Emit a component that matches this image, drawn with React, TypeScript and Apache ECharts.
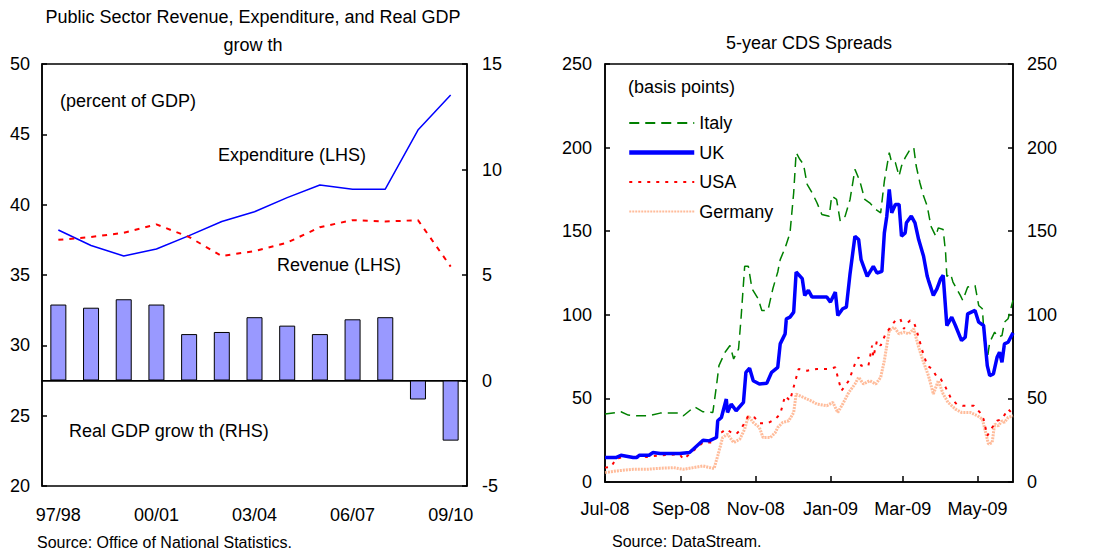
import React, { useEffect, useRef } from "react";
import * as echarts from "echarts";

// ---------- Left chart data ----------
const fiscalYears = ["97/98", "98/99", "99/00", "00/01", "01/02", "02/03", "03/04", "04/05", "05/06", "06/07", "07/08", "08/09", "09/10"];
const expenditure = [38.2, 37.1, 36.35, 36.85, 37.8, 38.8, 39.5, 40.5, 41.4, 41.1, 41.1, 45.3, 47.8];
const revenue = [37.5, 37.7, 38.0, 38.6, 37.7, 36.35, 36.7, 37.3, 38.4, 38.9, 38.8, 38.9, 35.6];
const realGdpGrowth = [3.6, 3.45, 3.85, 3.6, 2.2, 2.3, 3.0, 2.6, 2.2, 2.9, 3.0, -0.9, -2.85];

// ---------- Right chart data ----------
const cdsTickDates = ["2008-07-01", "2008-09-01", "2008-11-01", "2009-01-01", "2009-03-01", "2009-05-01"];
const monthNames = ["Jan", "Feb", "Mar", "Apr", "May", "Jun", "Jul", "Aug", "Sep", "Oct", "Nov", "Dec"];

const italy: [string, number][] = [
  ["2008-07-01", 40.6], ["2008-07-14", 42], ["2008-07-20", 40], ["2008-07-27", 39.6], ["2008-08-06", 39.6], ["2008-08-15", 41.2],
  ["2008-08-31", 41.2], ["2008-09-03", 39.6], ["2008-09-08", 42.6], ["2008-09-12", 45], ["2008-09-19", 42], ["2008-09-27", 41.6],
  ["2008-09-30", 57.6], ["2008-10-02", 69.6], ["2008-10-07", 77.6], ["2008-10-11", 81.6], ["2008-10-14", 73.6], ["2008-10-18", 79.6],
  ["2008-10-20", 97.6], ["2008-10-23", 129], ["2008-10-26", 129], ["2008-10-29", 115.6], ["2008-11-03", 109.6], ["2008-11-06", 102.6],
  ["2008-11-11", 102.6], ["2008-11-15", 115.6], ["2008-11-19", 125.6], ["2008-11-21", 133], ["2008-11-25", 140], ["2008-11-29", 149],
  ["2008-12-02", 173], ["2008-12-04", 197], ["2008-12-07", 193], ["2008-12-10", 190], ["2008-12-13", 178], ["2008-12-17", 173],
  ["2008-12-21", 167], ["2008-12-25", 160], ["2008-12-31", 159], ["2009-01-02", 171], ["2009-01-06", 169], ["2009-01-09", 156],
  ["2009-01-13", 159], ["2009-01-17", 169], ["2009-01-21", 187], ["2009-01-25", 180], ["2009-01-29", 169], ["2009-02-02", 167],
  ["2009-02-07", 163], ["2009-02-11", 161], ["2009-02-14", 180], ["2009-02-18", 197], ["2009-02-20", 191], ["2009-02-23", 191],
  ["2009-02-26", 183], ["2009-02-28", 189], ["2009-03-03", 194], ["2009-03-07", 199], ["2009-03-10", 200], ["2009-03-12", 189],
  ["2009-03-15", 179], ["2009-03-18", 171], ["2009-03-21", 165], ["2009-03-24", 153], ["2009-03-28", 147], ["2009-03-30", 152],
  ["2009-04-03", 151], ["2009-04-05", 137], ["2009-04-06", 123], ["2009-04-09", 124.6], ["2009-04-11", 119.6], ["2009-04-17", 111.6],
  ["2009-04-19", 108.6], ["2009-04-23", 116.6], ["2009-04-29", 117.6], ["2009-05-02", 105.6], ["2009-05-05", 103.6], ["2009-05-07", 81.6],
  ["2009-05-09", 73.6], ["2009-05-11", 83.6], ["2009-05-15", 89.6], ["2009-05-18", 86.6], ["2009-05-21", 87.6], ["2009-05-23", 95.6],
  ["2009-05-26", 97.6], ["2009-05-30", 108.6],
];

const uk: [string, number][] = [
  ["2008-07-01", 14.6], ["2008-07-10", 14.6], ["2008-07-14", 16], ["2008-07-24", 14.6], ["2008-07-27", 14.6], ["2008-07-29", 16],
  ["2008-08-06", 16], ["2008-08-09", 17.6], ["2008-08-15", 17], ["2008-08-31", 17], ["2008-09-08", 17.6], ["2008-09-11", 19.6],
  ["2008-09-19", 25], ["2008-09-24", 24.6], ["2008-09-30", 26.6], ["2008-10-01", 36.6], ["2008-10-04", 38.6], ["2008-10-08", 49.6],
  ["2008-10-09", 41.6], ["2008-10-12", 46.6], ["2008-10-16", 42.6], ["2008-10-22", 47.6], ["2008-10-24", 65.6], ["2008-10-27", 68],
  ["2008-10-30", 60.6], ["2008-11-04", 58.6], ["2008-11-10", 59], ["2008-11-14", 65.6], ["2008-11-19", 68.6], ["2008-11-21", 82.6],
  ["2008-11-25", 88.6], ["2008-11-26", 97.6], ["2008-11-29", 98.6], ["2008-12-02", 101.6], ["2008-12-04", 125.6], ["2008-12-09", 121.6],
  ["2008-12-11", 111.6], ["2008-12-14", 114.6], ["2008-12-17", 110.6], ["2008-12-29", 110.6], ["2009-01-01", 107.6], ["2009-01-05", 113.6],
  ["2009-01-07", 99.6], ["2009-01-11", 103.6], ["2009-01-14", 104.6], ["2009-01-17", 124.6], ["2009-01-21", 147], ["2009-01-24", 145],
  ["2009-01-26", 133], ["2009-01-31", 123], ["2009-02-05", 129], ["2009-02-08", 125], ["2009-02-12", 126], ["2009-02-14", 149],
  ["2009-02-16", 159], ["2009-02-18", 175], ["2009-02-20", 161], ["2009-02-23", 166], ["2009-02-26", 166], ["2009-02-28", 147],
  ["2009-03-03", 149], ["2009-03-04", 155], ["2009-03-08", 159], ["2009-03-11", 155], ["2009-03-14", 145], ["2009-03-18", 135],
  ["2009-03-21", 123], ["2009-03-22", 120.6], ["2009-03-26", 111.6], ["2009-03-29", 115.6], ["2009-04-01", 121.6], ["2009-04-03", 123.6],
  ["2009-04-06", 93.6], ["2009-04-10", 98.6], ["2009-04-13", 93.6], ["2009-04-18", 84.6], ["2009-04-21", 86.6], ["2009-04-23", 100.6],
  ["2009-04-29", 102.6], ["2009-05-02", 95.6], ["2009-05-06", 93.6], ["2009-05-09", 69.6], ["2009-05-11", 63.6], ["2009-05-14", 64.6],
  ["2009-05-17", 74.6], ["2009-05-19", 77.6], ["2009-05-21", 71.6], ["2009-05-23", 82.6], ["2009-05-26", 83.6], ["2009-05-30", 89.2],
];

const usa: [string, number][] = [
  ["2008-07-01", 8.6], ["2008-07-06", 9], ["2008-07-10", 14], ["2008-07-20", 15.5], ["2008-08-04", 15], ["2008-08-15", 16],
  ["2008-08-31", 16.5], ["2008-09-03", 13.6], ["2008-09-11", 18.6], ["2008-09-19", 23.6], ["2008-09-27", 23.6], ["2008-09-30", 27.6],
  ["2008-10-04", 29.6], ["2008-10-08", 31.6], ["2008-10-12", 29.6], ["2008-10-16", 28.6], ["2008-10-20", 31.6], ["2008-10-26", 39.6],
  ["2008-10-31", 38.6], ["2008-11-04", 35.2], ["2008-11-11", 35.2], ["2008-11-17", 37.6], ["2008-11-21", 40.6], ["2008-11-25", 51.6],
  ["2008-11-29", 48.6], ["2008-12-03", 59.6], ["2008-12-06", 67.6], ["2008-12-13", 66.6], ["2008-12-21", 67.6], ["2008-12-31", 67.6],
  ["2009-01-05", 68.6], ["2009-01-07", 62.6], ["2009-01-10", 54.6], ["2009-01-16", 60.6], ["2009-01-21", 70.6], ["2009-01-24", 74.6],
  ["2009-01-26", 69.6], ["2009-02-01", 69.6], ["2009-02-04", 81.6], ["2009-02-05", 74.6], ["2009-02-08", 84.6], ["2009-02-11", 81.6],
  ["2009-02-15", 88.6], ["2009-02-19", 92.6], ["2009-02-23", 96.6], ["2009-02-27", 97.6], ["2009-03-02", 91.6], ["2009-03-04", 94.6],
  ["2009-03-07", 96.6], ["2009-03-10", 95.6], ["2009-03-12", 91.6], ["2009-03-17", 78.6], ["2009-03-21", 69.6], ["2009-03-25", 67.6],
  ["2009-03-29", 62.6], ["2009-04-01", 61.6], ["2009-04-05", 56.6], ["2009-04-09", 50.6], ["2009-04-14", 46.6], ["2009-04-19", 45.6],
  ["2009-04-22", 45.6], ["2009-04-28", 45.6], ["2009-05-03", 41.6], ["2009-05-06", 37.6], ["2009-05-09", 27.6], ["2009-05-13", 32.6],
  ["2009-05-17", 36.6], ["2009-05-21", 37.6], ["2009-05-26", 43.6], ["2009-05-30", 40.6],
];

const germany: [string, number][] = [
  ["2008-07-01", 5.6], ["2008-07-10", 6.6], ["2008-07-24", 7.6], ["2008-08-04", 7.6], ["2008-08-15", 8.2], ["2008-08-26", 8.6],
  ["2008-09-03", 7.6], ["2008-09-11", 8.6], ["2008-09-19", 9.6], ["2008-09-28", 8], ["2008-10-01", 15.6], ["2008-10-05", 26.6],
  ["2008-10-09", 28.6], ["2008-10-14", 23.6], ["2008-10-19", 25.6], ["2008-10-23", 31.6], ["2008-10-26", 39.6], ["2008-10-30", 35.6],
  ["2008-11-04", 32.6], ["2008-11-07", 26.6], ["2008-11-13", 26.6], ["2008-11-17", 29.6], ["2008-11-19", 32.6], ["2008-11-23", 35.6],
  ["2008-11-28", 36.6], ["2008-12-02", 41.6], ["2008-12-04", 52.6], ["2008-12-10", 50.6], ["2008-12-16", 48.6], ["2008-12-21", 46.6],
  ["2008-12-29", 45.6], ["2009-01-03", 47.6], ["2009-01-07", 41.6], ["2009-01-11", 46.6], ["2009-01-16", 53.6], ["2009-01-21", 58.6],
  ["2009-01-24", 62.6], ["2009-01-28", 58.6], ["2009-02-02", 60.6], ["2009-02-07", 58.6], ["2009-02-11", 62.6], ["2009-02-14", 72.6],
  ["2009-02-18", 90.6], ["2009-02-22", 92.6], ["2009-02-26", 88.6], ["2009-03-02", 89.6], ["2009-03-06", 88.6], ["2009-03-10", 91.6],
  ["2009-03-14", 80.6], ["2009-03-18", 71.6], ["2009-03-22", 63.6], ["2009-03-26", 52.6], ["2009-03-30", 60.6], ["2009-04-03", 52.6],
  ["2009-04-07", 47.6], ["2009-04-13", 43.6], ["2009-04-18", 41.6], ["2009-04-25", 41.6], ["2009-05-01", 39.6], ["2009-05-05", 37.6],
  ["2009-05-07", 31.6], ["2009-05-10", 22.6], ["2009-05-13", 23.6], ["2009-05-15", 34.6], ["2009-05-18", 33.6], ["2009-05-21", 36.6],
  ["2009-05-23", 35.6], ["2009-05-26", 38.6], ["2009-05-30", 39.6],
];

const FONT = "Liberation Sans, Arial, sans-serif";

function parseLocal(s: string): number {
  const [y, m, d] = s.split("-").map(Number);
  return new Date(y, m - 1, d).getTime();
}

export default function App() {
  const ref = useRef<HTMLDivElement>(null);

  useEffect(() => {
    if (!ref.current) return;
    const chart = echarts.init(ref.current, undefined, { renderer: "svg" });
    const tickValues = cdsTickDates.map(parseLocal);
    const axisLineStyle = { color: "#000", width: 1.5 };
    const labelStyle = { color: "#000", fontSize: 18, fontFamily: FONT };
    const tickStyle = { color: "#000", width: 1.5 };
    const textFont = `18px ${FONT}`;

    const option: any = {
      animation: false,
      backgroundColor: "#fff",
      textStyle: { fontFamily: FONT },
      grid: [
        { left: 42, top: 64, width: 425, height: 422, show: true, borderColor: "#000", borderWidth: 1.5, backgroundColor: "transparent" },
        { left: 605, top: 64, width: 408, height: 418, show: true, borderColor: "#000", borderWidth: 1.5, backgroundColor: "transparent" },
      ],
      xAxis: [
        {
          type: "category",
          gridIndex: 0,
          data: fiscalYears,
          boundaryGap: true,
          axisLine: { lineStyle: axisLineStyle },
          axisTick: { inside: true, interval: 2, length: 6, lineStyle: tickStyle },
          axisLabel: { interval: 2, margin: 20, ...labelStyle },
          splitLine: { show: false },
        },
        {
          type: "value",
          gridIndex: 1,
          min: parseLocal("2008-07-01"),
          max: parseLocal("2009-05-30"),
          axisLine: { lineStyle: axisLineStyle },
          axisTick: { show: true, inside: true, length: 6, customValues: tickValues, lineStyle: tickStyle },
          axisLabel: {
            margin: 18,
            ...labelStyle,
            customValues: tickValues,
            formatter: (v: number) => {
              const d = new Date(v);
              return monthNames[d.getMonth()] + "-" + String(d.getFullYear()).slice(2);
            },
          },
          splitLine: { show: false },
        },
      ],
      yAxis: [
        {
          type: "value", gridIndex: 0, min: 20, max: 50, interval: 5,
          axisLine: { show: true, lineStyle: axisLineStyle },
          axisTick: { show: true, inside: true, length: 5, lineStyle: tickStyle },
          axisLabel: { margin: 12, ...labelStyle },
          splitLine: { show: false },
        },
        {
          type: "value", gridIndex: 0, min: -5, max: 15, interval: 5, position: "right",
          axisLine: { show: true, lineStyle: axisLineStyle },
          axisTick: { show: true, inside: true, length: 5, lineStyle: tickStyle },
          axisLabel: { margin: 15, ...labelStyle },
          splitLine: { show: false },
        },
        {
          type: "value", gridIndex: 1, min: 0, max: 250, interval: 50,
          axisLine: { show: true, lineStyle: axisLineStyle },
          axisTick: { show: true, inside: true, length: 5, lineStyle: tickStyle },
          axisLabel: { margin: 13, ...labelStyle },
          splitLine: { show: false },
        },
        {
          type: "value", gridIndex: 1, min: 0, max: 250, interval: 50, position: "right",
          axisLine: { show: true, lineStyle: axisLineStyle },
          axisTick: { show: true, inside: true, length: 5, lineStyle: tickStyle },
          axisLabel: { margin: 14, ...labelStyle },
          splitLine: { show: false },
        },
      ],
      legend: {
        show: true,
        orient: "vertical",
        left: 627,
        top: 114,
        padding: 0,
        itemWidth: 65,
        itemHeight: 18,
        itemGap: 11.5,
        itemStyle: { opacity: 0 },
        textStyle: { color: "#000", fontSize: 18, lineHeight: 18, fontFamily: FONT },
        data: [
          { name: "Italy" },
          { name: "UK", lineStyle: { width: 4.5 } },
          { name: "USA" },
          { name: "Germany" },
        ],
      },
      series: [
        {
          name: "Real GDP growth",
          type: "bar",
          xAxisIndex: 0,
          yAxisIndex: 1,
          data: realGdpGrowth,
          barWidth: 16,
          itemStyle: { color: "#9999FF", borderColor: "#000", borderWidth: 1 },
          markLine: {
            silent: true,
            symbol: "none",
            label: { show: false },
            lineStyle: { color: "#000", width: 1, type: "solid" },
            data: [{ yAxis: 0 }],
          },
          z: 2,
        },
        {
          name: "Expenditure",
          type: "line",
          xAxisIndex: 0,
          yAxisIndex: 0,
          data: expenditure,
          symbol: "none",
          lineStyle: { color: "#0000FF", width: 1.5 },
          z: 3,
        },
        {
          name: "Revenue",
          type: "line",
          xAxisIndex: 0,
          yAxisIndex: 0,
          data: revenue,
          symbol: "none",
          lineStyle: { color: "#FF0000", width: 2, type: [5, 6] },
          z: 3,
        },
        {
          name: "Germany",
          type: "line",
          xAxisIndex: 1,
          yAxisIndex: 2,
          data: germany.map(([d, v]) => [parseLocal(d), v]),
          symbol: "none",
          color: "#FFB08A",
          lineStyle: { color: "#FFB08A", width: 3, type: [2, 1], opacity: 0.85 },
          z: 2,
        },
        {
          name: "USA",
          type: "line",
          xAxisIndex: 1,
          yAxisIndex: 2,
          data: usa.map(([d, v]) => [parseLocal(d), v]),
          symbol: "none",
          color: "#FF0000",
          lineStyle: { color: "#FF0000", width: 2, type: [3, 6] },
          z: 3,
        },
        {
          name: "Italy",
          type: "line",
          xAxisIndex: 1,
          yAxisIndex: 2,
          data: italy.map(([d, v]) => [parseLocal(d), v]),
          symbol: "none",
          color: "#008000",
          lineStyle: { color: "#008000", width: 1.5, type: [10, 6] },
          z: 3,
        },
        {
          name: "UK",
          type: "line",
          xAxisIndex: 1,
          yAxisIndex: 2,
          data: uk.map(([d, v]) => [parseLocal(d), v]),
          symbol: "none",
          color: "#0000FF",
          lineStyle: { color: "#0000FF", width: 3.5 },
          z: 4,
        },
      ],
      graphic: [
        { type: "text", x: 253, y: 17, style: { text: "Public Sector Revenue, Expenditure, and Real GDP", fill: "#000", font: textFont, textAlign: "center", textVerticalAlign: "middle" } },
        { type: "text", x: 253, y: 45, style: { text: "grow th", fill: "#000", font: textFont, textAlign: "center", textVerticalAlign: "middle" } },
        { type: "text", x: 809, y: 43, style: { text: "5-year CDS Spreads", fill: "#000", font: textFont, textAlign: "center", textVerticalAlign: "middle" } },
        { type: "text", x: 60, y: 101, style: { text: "(percent of GDP)", fill: "#000", font: textFont, textVerticalAlign: "middle" } },
        { type: "text", x: 218, y: 155, style: { text: "Expenditure (LHS)", fill: "#000", font: textFont, textVerticalAlign: "middle" } },
        { type: "text", x: 277, y: 265, style: { text: "Revenue (LHS)", fill: "#000", font: textFont, textVerticalAlign: "middle" } },
        { type: "text", x: 69, y: 431, style: { text: "Real GDP grow th (RHS)", fill: "#000", font: textFont, textVerticalAlign: "middle" } },
        { type: "text", x: 628, y: 87, style: { text: "(basis points)", fill: "#000", font: textFont, textVerticalAlign: "middle" } },
        { type: "text", x: 37, y: 542, style: { text: "Source: Office of National Statistics.", fill: "#000", font: `16px ${FONT}`, textVerticalAlign: "middle" } },
        { type: "text", x: 612, y: 541, style: { text: "Source: DataStream.", fill: "#000", font: `16px ${FONT}`, textVerticalAlign: "middle" } },
      ],
    };

    chart.setOption(option);
    return () => chart.dispose();
  }, []);

  return (
    <div
      ref={ref}
      style={{ position: "fixed", left: 0, top: 0, width: 1094, height: 550, background: "#fff" }}
    />
  );
}
